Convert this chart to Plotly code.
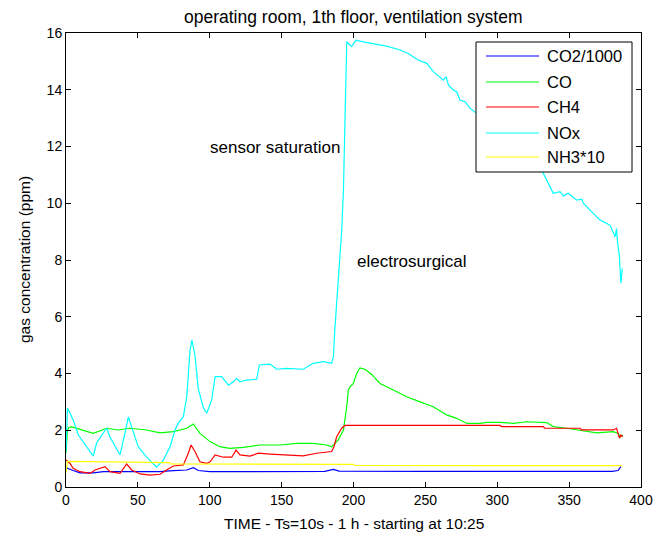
import plotly.graph_objects as go

# ---- data ----
co2_x = [0, 1, 5, 9.7, 19, 26, 42, 65, 74.6, 84, 88.6, 92, 100, 150, 180, 186, 190, 250, 300, 350, 380, 384, 386]
co2_y = [0.7, 0.66, 0.58, 0.5, 0.5, 0.54, 0.54, 0.54, 0.58, 0.6, 0.68, 0.58, 0.54, 0.54, 0.55, 0.62, 0.56, 0.55, 0.56, 0.55, 0.55, 0.58, 0.72]

co_x = [0, 1, 2, 4, 9.7, 19, 28.3, 36.4, 44.5, 56, 65.4, 74.6, 84, 88.6, 93.2, 100.2, 107, 114, 123.3, 135,
        148.9, 160.5, 172, 181.4, 184.8, 189.4, 193, 195.3, 196.4, 197.6, 199.9, 202.2, 204.5, 208, 213, 218.4,
        227.7, 237, 246.3, 255.5, 264.8, 271.8, 278.8, 288, 292.7, 302, 311.2, 320.5, 334.4, 339, 348.3, 357.6,
        369.2, 380.7, 384.2, 385.4, 387.3]
co_y = [1.2, 2.0, 2.1, 2.12, 2.03, 1.89, 2.07, 2.01, 2.07, 2.01, 1.91, 1.95, 2.07, 2.22, 1.89, 1.6, 1.42, 1.36, 1.4, 1.48,
        1.48, 1.54, 1.54, 1.48, 1.42, 1.66, 2.01, 2.83, 3.42, 3.53, 3.65, 4.0, 4.2, 4.15, 3.95, 3.65,
        3.42, 3.18, 3.0, 2.83, 2.54, 2.42, 2.24, 2.24, 2.28, 2.28, 2.24, 2.3, 2.27, 2.13, 2.07, 2.01,
        1.91, 1.95, 1.89, 1.77, 1.83]

ch4_x = [0, 2.8, 5, 9.7, 16.7, 20.2, 27.1, 30.6, 37.6, 42.2, 45.7, 51.5, 58.4, 65.4, 70, 74.6, 81.6, 85.1, 87, 89.7,
         93.2, 97.9, 100.2, 103.7, 109.4, 115.3, 118.3, 121, 128, 133.8, 142, 153.5, 165, 174.4, 184.8, 186.4,
         188.3, 191.8, 194.1, 250, 302, 303, 332, 333, 357.6, 358.6, 380.7, 383, 385, 386, 387.3]
ch4_y = [0.95, 0.83, 0.66, 0.54, 0.48, 0.6, 0.72, 0.54, 0.48, 0.81, 0.6, 0.46, 0.42, 0.45, 0.6, 0.74, 0.78, 1.19, 1.48, 1.25,
         0.89, 0.83, 0.89, 1.13, 1.05, 1.05, 1.3, 1.13, 1.09, 1.19, 1.16, 1.12, 1.1, 1.19, 1.25, 1.42,
         1.77, 2.07, 2.17, 2.17, 2.17, 2.13, 2.13, 2.07, 2.07, 2.01, 2.01, 2.07, 1.72, 1.83, 1.77]

nox_x = [0, 1, 2.8, 5, 8.6, 14.4, 19, 21.3, 26, 28.3, 30.6, 37.6, 41, 43.4, 45.7, 50.3, 56, 63, 67.7, 72.3, 75.8,
         78, 81.6, 84, 86.3, 87.6, 89.7, 92, 95.5, 97.9, 101.4, 103.7, 108.3, 113, 116.4, 118.7, 121, 125.7,
         132.7, 134.5, 141.9, 146.6, 153.5, 165, 172, 179, 184.8, 186, 187, 191.8, 193, 194, 194.8, 195.3,
         198.7, 201.7, 206.8, 216, 223, 232.4, 238, 245, 251, 255.5, 260.2, 262.5, 264.4, 266, 269.4, 271.8,
         274, 277.6, 281, 290, 300, 310, 320, 332, 339, 343.7, 346, 349.4, 355.3, 358.8, 359.9, 364.5, 371.5,
         378.4, 382, 383, 383.5, 385, 386, 387]
nox_y = [1.25, 2.78, 2.6, 2.36, 1.83, 1.41, 1.09, 1.55, 1.94, 2.08, 1.76, 1.13, 1.9, 2.47, 2.11, 1.41, 1.06, 0.7, 0.95, 1.41, 2.0,
         2.25, 2.47, 3.17, 4.83, 5.18, 4.65, 3.47, 2.8, 2.6, 3.07, 3.89, 3.89, 3.59, 3.71, 3.83, 3.71, 3.77,
         3.8, 4.3, 4.33, 4.15, 4.18, 4.15, 4.36, 4.42, 4.36, 4.59, 5.53, 9.06, 10.47, 12.58, 14.93, 15.69,
         15.52, 15.75, 15.69, 15.61, 15.54, 15.4, 15.28, 15.05, 14.93, 14.64, 14.46, 14.34, 14.46, 14.17, 13.99, 13.93,
         13.64, 13.58, 13.35, 13.0, 12.6, 12.1, 11.6, 11.06, 10.35, 10.41, 10.26, 10.35, 10.11, 10.14, 10.0, 9.76, 9.41,
         9.23, 8.82, 9.11, 8.7, 8.11, 7.18, 7.7]

nh3_x = [0, 1, 72, 73, 200, 201, 387]
nh3_y = [0.5, 0.9, 0.86, 0.81, 0.8, 0.76, 0.75]

series_names = ["CO2/1000", "CO", "CH4", "NOx", "NH3*10"]
series_colors = ["#0000ff", "#00ff00", "#ff0000", "#00ffff", "#ffff00"]
series_x = [co2_x, co_x, ch4_x, nox_x, nh3_x]
series_y = [co2_y, co_y, ch4_y, nox_y, nh3_y]

title_text = "operating room, 1th floor, ventilation system"
xlabel_text = "TIME - Ts=10s - 1 h - starting at 10:25"
ylabel_text = "gas concentration (ppm)"
notes = [("sensor saturation", 98.8, 11.98), ("electrosurgical", 201, 7.96)]

FONT = "Liberation Sans, Arial, sans-serif"

# plot-area geometry in page pixels (body has an 8px margin)
L, R, T, B = 66, 641, 33, 487
W, H = 662, 527
PW, PH = R - L, B - T


def px2paper_x(px):
    return (px - L) / PW


def px2paper_y(py):
    return (B - py) / PH


fig = go.Figure()
for name, xs, ys, col in zip(series_names, series_x, series_y, series_colors):
    fig.add_trace(go.Scatter(x=xs, y=ys, mode="lines", name=name,
                             line=dict(color=col, width=1.2), showlegend=False))

axis_common = dict(showline=True, linecolor="black", linewidth=1, mirror="ticks",
                   ticks="inside", ticklen=5, tickcolor="black", showgrid=False,
                   zeroline=False, tickfont=dict(family=FONT, size=14, color="black"))

fig.update_xaxes(range=[0, 400], dtick=50, tick0=0, **axis_common)
fig.update_yaxes(range=[0, 16], dtick=2, tick0=0, **axis_common)

annotations = []
for txt, xv, yv in notes:
    annotations.append(dict(x=xv, y=yv, xref="x", yref="y", text=txt, showarrow=False,
                            xanchor="left", yanchor="middle",
                            font=dict(family=FONT, size=17, color="black")))

# axis titles
annotations.append(dict(x=0.5, y=px2paper_y(523), xref="paper", yref="paper", text=xlabel_text,
                        showarrow=False, xanchor="center", yanchor="middle",
                        font=dict(family=FONT, size=15.5, color="black")))
annotations.append(dict(x=px2paper_x(24), y=0.5, xref="paper", yref="paper", text=ylabel_text,
                        showarrow=False, xanchor="center", yanchor="middle", textangle=-90,
                        font=dict(family=FONT, size=15.5, color="black")))
# title
annotations.append(dict(x=0.5, y=px2paper_y(17), xref="paper", yref="paper", text=title_text,
                        showarrow=False, xanchor="center", yanchor="middle",
                        font=dict(family=FONT, size=17.5, color="black")))

# manual legend (MATLAB style box)
shapes = [dict(type="rect", xref="paper", yref="paper", layer="above",
               x0=px2paper_x(476), x1=px2paper_x(632), y0=px2paper_y(172), y1=px2paper_y(42),
               fillcolor="white", line=dict(color="black", width=1))]
row_y = [56, 82, 107, 133, 157]
for name, col, ry in zip(series_names, series_colors, row_y):
    shapes.append(dict(type="line", xref="paper", yref="paper", layer="above",
                       x0=px2paper_x(486), x1=px2paper_x(539), y0=px2paper_y(ry), y1=px2paper_y(ry),
                       line=dict(color=col, width=1.2)))
    annotations.append(dict(x=px2paper_x(545), y=px2paper_y(ry), xref="paper", yref="paper",
                            text=name, showarrow=False, xanchor="left", yanchor="middle",
                            font=dict(family=FONT, size=16.5, color="black")))

fig.update_layout(
    width=W, height=H,
    margin=dict(l=L - 8, r=W - (R - 8), t=T - 8, b=H - (B - 8)),
    paper_bgcolor="white", plot_bgcolor="white",
    showlegend=False,
    annotations=annotations,
    shapes=shapes,
)

fig.write_html("out.html")
